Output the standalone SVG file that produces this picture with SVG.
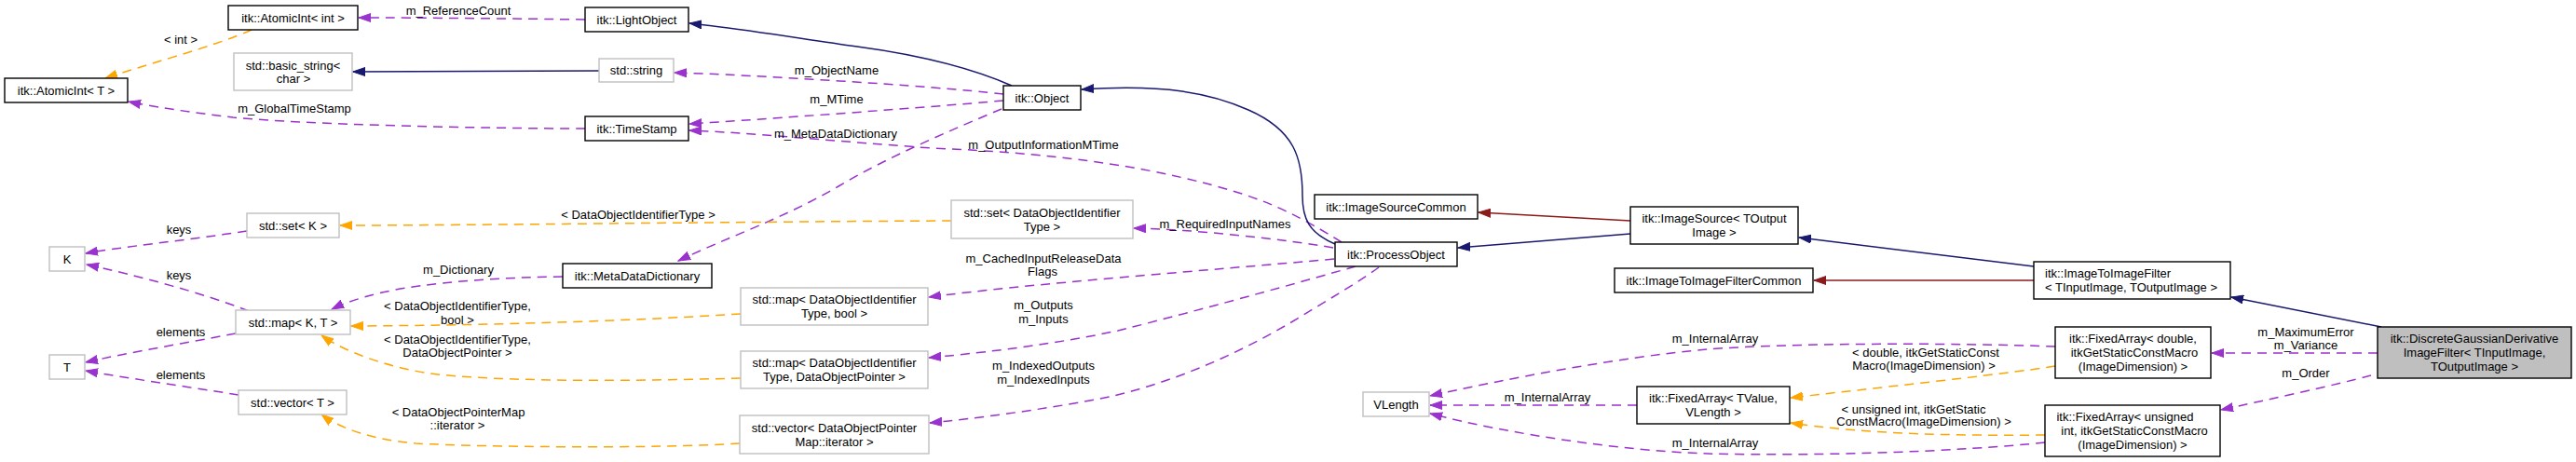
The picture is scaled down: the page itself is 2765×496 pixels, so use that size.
<svg xmlns="http://www.w3.org/2000/svg" width="2765" height="496" viewBox="0 0 2765 496">
<style>
text{font-family:"Liberation Sans",Arial,sans-serif;font-size:13px;fill:#000}
.c{text-anchor:middle}
.n rect{fill:#fff;stroke:#000;stroke-width:1.4}
.g rect{fill:#fff;stroke:#bfbfbf;stroke-width:1.4}
.m rect{fill:#bfbfbf;stroke:#000;stroke-width:1.4}
.e path{fill:none;stroke-width:1.5}
.e .p{stroke:#9a32cd;stroke-dasharray:10,7;marker-end:url(#ap)}
.e .o{stroke:#ffa500;stroke-dasharray:10,7;marker-end:url(#ao)}
.e .b{stroke:#191970;marker-end:url(#ab)}
.e .r{stroke:#8b1a1a;marker-end:url(#ar)}
</style>
<defs>
<marker id="ap" viewBox="0 0 14 10" refX="13" refY="5" markerWidth="14" markerHeight="10" orient="auto" markerUnits="userSpaceOnUse"><path d="M0,0.5 L13,5 L0,9.5 z" fill="#9a32cd" stroke="#9a32cd"/></marker>
<marker id="ao" viewBox="0 0 14 10" refX="13" refY="5" markerWidth="14" markerHeight="10" orient="auto" markerUnits="userSpaceOnUse"><path d="M0,0.5 L13,5 L0,9.5 z" fill="#ffa500" stroke="#ffa500"/></marker>
<marker id="ab" viewBox="0 0 14 10" refX="13" refY="5" markerWidth="14" markerHeight="10" orient="auto" markerUnits="userSpaceOnUse"><path d="M0,0.5 L13,5 L0,9.5 z" fill="#191970" stroke="#191970"/></marker>
<marker id="ar" viewBox="0 0 14 10" refX="13" refY="5" markerWidth="14" markerHeight="10" orient="auto" markerUnits="userSpaceOnUse"><path d="M0,0.5 L13,5 L0,9.5 z" fill="#8b1a1a" stroke="#8b1a1a"/></marker>
</defs>
<rect width="2765" height="496" fill="#fff"/>

<g id="connectors" class="e">
<path class="p" d="M628,21 C560,20 450,19 385,19"/>
<text class="c" x="492" y="16">m_ReferenceCount</text>
<path class="o" d="M270,32 C230,50 160,68 113,84"/>
<text class="c" x="194" y="47">&lt; int &gt;</text>
<path class="b" d="M643,76 L379,77"/>
<path class="p" d="M628,138 C520,138 330,134 250,126 C200,120 160,114 138,109"/>
<text class="c" x="316" y="121">m_GlobalTimeStamp</text>
<path class="b" d="M1086,92 C1040,72 980,58 920,50 C850,40 790,30 740,25"/>
<path class="p" d="M1077,101 C1000,92 800,80 724,78"/>
<text class="c" x="898" y="79.5">m_ObjectName</text>
<path class="p" d="M1077,108 C1000,115 820,128 740,133"/>
<text class="c" x="898" y="111">m_MTime</text>
<path class="p" d="M1440,260 C1400,235 1370,220 1333,208 C1250,182 1150,165 1000,159 C900,152 800,142 740,140"/>
<text class="c" x="1120" y="159.5">m_OutputInformationMTime</text>
<path class="p" d="M1075,117 C1020,140 950,170 900,200 C840,235 780,255 728,280"/>
<text class="c" x="897" y="147.5">m_MetaDataDictionary</text>
<path class="b" d="M1433,262 C1405,250 1398,235 1398,210 C1398,170 1390,140 1340,118 C1300,100 1250,90 1161,96"/>
<path class="p" d="M1431,266 C1380,257 1280,246 1217,245"/>
<text class="c" x="1315" y="244.5">m_RequiredInputNames</text>
<path class="o" d="M1021,237 C800,238 500,242 365,242"/>
<text class="c" x="685" y="234.5">&lt; DataObjectIdentifierType &gt;</text>
<path class="p" d="M265,248 C200,258 130,265 92,272"/>
<text class="c" x="192" y="251">keys</text>
<path class="p" d="M267,334 C220,315 140,294 93,284"/>
<text class="c" x="192" y="299.5">keys</text>
<path class="p" d="M253,358 C200,368 130,380 92,389"/>
<text class="c" x="194" y="361">elements</text>
<path class="p" d="M256,424 C200,415 130,405 92,398"/>
<text class="c" x="194" y="407">elements</text>
<path class="p" d="M604,297 C530,298 460,303 410,314 C385,320 368,326 356,332"/>
<text class="c" x="492" y="293.5">m_Dictionary</text>
<path class="o" d="M795,337 C700,343 560,349 377,350"/>
<text class="c" x="491" y="333">&lt; DataObjectIdentifierType,</text>
<text class="c" x="491" y="347.5">bool &gt;</text>
<path class="o" d="M795,406 C650,410 540,409 470,402 C420,396 370,378 345,360"/>
<text class="c" x="491" y="368.5">&lt; DataObjectIdentifierType,</text>
<text class="c" x="491" y="383">DataObjectPointer &gt;</text>
<path class="o" d="M794,476 C700,482 520,480 446,476 C400,472 365,460 345,445"/>
<text class="c" x="492" y="447">&lt; DataObjectPointerMap</text>
<text class="c" x="491" y="461">::iterator &gt;</text>
<path class="p" d="M1432,278 C1300,290 1100,305 997,319"/>
<text class="c" x="1120" y="281.5">m_CachedInputReleaseData</text>
<text class="c" x="1119" y="296">Flags</text>
<path class="p" d="M1455,286 C1420,296 1300,330 1200,355 C1120,372 1040,380 997,384"/>
<text class="c" x="1120" y="332">m_Outputs</text>
<text class="c" x="1120" y="347">m_Inputs</text>
<path class="p" d="M1480,287 C1455,305 1425,322 1396,340 C1330,380 1260,410 1191,426 C1120,440 1040,450 998,454"/>
<text class="c" x="1120" y="397">m_IndexedOutputs</text>
<text class="c" x="1120" y="412">m_IndexedInputs</text>
<path class="b" d="M1750,251 L1565,266"/>
<path class="r" d="M1750,237 L1587,228"/>
<path class="b" d="M2183,286 L1931,255"/>
<path class="r" d="M2183,301 L1947,301"/>
<path class="b" d="M2556,351 L2395,319"/>
<path class="p" d="M2552,379 L2374,379"/>
<text class="c" x="2475" y="360.5">m_MaximumError</text>
<text class="c" x="2475" y="375">m_Variance</text>
<path class="p" d="M2545,403 C2500,415 2430,430 2384,440"/>
<text class="c" x="2475" y="404.5">m_Order</text>
<path class="o" d="M2206,393 C2150,402 2000,418 1922,427"/>
<text class="c" x="2067" y="383">&lt; double, itkGetStaticConst</text>
<text class="c" x="2065" y="397">Macro(ImageDimension) &gt;</text>
<path class="o" d="M2195,467 C2100,468 2000,466 1922,454"/>
<text class="c" x="2054" y="443.5">&lt; unsigned int, itkGetStatic</text>
<text class="c" x="2065" y="457">ConstMacro(ImageDimension) &gt;</text>
<path class="p" d="M1757,435 L1535,435"/>
<text class="c" x="1661" y="431">m_InternalArray</text>
<path class="p" d="M2206,372 C2100,368 1920,368 1833,375 C1740,383 1610,408 1535,425"/>
<text class="c" x="1841" y="367.5">m_InternalArray</text>
<path class="p" d="M2195,475 C2100,485 1950,490 1833,487 C1740,484 1620,466 1535,444"/>
<text class="c" x="1841" y="479.5">m_InternalArray</text>
</g>

<g id="AtomicIntT" class="n"><rect x="5" y="84" width="132" height="26"/><text class="c" x="71" y="101.5">itk::AtomicInt&lt; T &gt;</text></g>
<g id="AtomicIntInt" class="n"><rect x="245" y="6" width="139" height="26"/><text class="c" x="314.5" y="23.5">itk::AtomicInt&lt; int &gt;</text></g>
<g id="LightObject" class="n"><rect x="628" y="8" width="111" height="26"/><text class="c" x="683.5" y="25.5">itk::LightObject</text></g>
<g id="basic_string" class="g"><rect x="251" y="57" width="127" height="40"/><text class="c" x="314.5" y="74.5">std::basic_string&lt;</text><text class="c" x="315" y="89">char &gt;</text></g>
<g id="std_string" class="g"><rect x="643" y="63" width="80" height="25"/><text class="c" x="683" y="80">std::string</text></g>
<g id="TimeStamp" class="n"><rect x="628" y="125" width="111" height="26"/><text class="c" x="683.5" y="142.5">itk::TimeStamp</text></g>
<g id="Object" class="n"><rect x="1077" y="92" width="83" height="26"/><text class="c" x="1118.5" y="109.5">itk::Object</text></g>
<g id="set_K" class="g"><rect x="265" y="229" width="99" height="26"/><text class="c" x="314.5" y="246.5">std::set&lt; K &gt;</text></g>
<g id="K" class="g"><rect x="53" y="265" width="38" height="26"/><text class="c" x="72" y="282.5">K</text></g>
<g id="map_KT" class="g"><rect x="253" y="333" width="123" height="26"/><text class="c" x="314.5" y="350.5">std::map&lt; K, T &gt;</text></g>
<g id="T" class="g"><rect x="53" y="381" width="38" height="26"/><text class="c" x="72" y="398.5">T</text></g>
<g id="vector_T" class="g"><rect x="256" y="419" width="116" height="26"/><text class="c" x="314" y="436.5">std::vector&lt; T &gt;</text></g>
<g id="MetaDataDictionary" class="n"><rect x="604" y="283" width="160" height="26"/><text class="c" x="684" y="300.5">itk::MetaDataDictionary</text></g>
<g id="set_DOI" class="g"><rect x="1021" y="215" width="195" height="41"/><text class="c" x="1118.5" y="232.5">std::set&lt; DataObjectIdentifier</text><text class="c" x="1118.5" y="247.5">Type &gt;</text></g>
<g id="map_DOI_bool" class="g"><rect x="795" y="309" width="201" height="40"/><text class="c" x="895.5" y="326">std::map&lt; DataObjectIdentifier</text><text class="c" x="895.5" y="341">Type, bool &gt;</text></g>
<g id="map_DOI_DOP" class="g"><rect x="795" y="377" width="201" height="40"/><text class="c" x="895.5" y="394">std::map&lt; DataObjectIdentifier</text><text class="c" x="895.5" y="409">Type, DataObjectPointer &gt;</text></g>
<g id="vector_DOPM" class="g"><rect x="794" y="446" width="203" height="41"/><text class="c" x="895.5" y="463.5">std::vector&lt; DataObjectPointer</text><text class="c" x="895.5" y="478.5">Map::iterator &gt;</text></g>
<g id="ProcessObject" class="n"><rect x="1433" y="260" width="131" height="26"/><text class="c" x="1498.5" y="277.5">itk::ProcessObject</text></g>
<g id="ImageSourceCommon" class="n"><rect x="1411" y="209" width="175" height="26"/><text class="c" x="1498.5" y="226.5">itk::ImageSourceCommon</text></g>
<g id="ImageSource" class="n"><rect x="1750" y="222" width="180" height="40"/><text class="c" x="1840" y="239">itk::ImageSource&lt; TOutput</text><text class="c" x="1840" y="254">Image &gt;</text></g>
<g id="ImageToImageFilterCommon" class="n"><rect x="1733" y="288" width="213" height="26"/><text class="c" x="1839.5" y="305.5">itk::ImageToImageFilterCommon</text></g>
<g id="ImageToImageFilter" class="n"><rect x="2183" y="281" width="211" height="40"/><text x="2195" y="298">itk::ImageToImageFilter</text><text x="2195" y="313">&lt; TInputImage, TOutputImage &gt;</text></g>
<g id="VLength" class="g"><rect x="1463" y="421" width="71" height="26"/><text class="c" x="1498.5" y="438.5">VLength</text></g>
<g id="FixedArray_TValue" class="n"><rect x="1757" y="415" width="164" height="40"/><text class="c" x="1839" y="432">itk::FixedArray&lt; TValue,</text><text class="c" x="1839" y="447">VLength &gt;</text></g>
<g id="FixedArray_double" class="n"><rect x="2206" y="351" width="167" height="55"/><text class="c" x="2289.5" y="368">itk::FixedArray&lt; double,</text><text class="c" x="2291" y="383">itkGetStaticConstMacro</text><text class="c" x="2289.5" y="398">(ImageDimension) &gt;</text></g>
<g id="DiscreteGaussianDerivativeImageFilter" class="m"><rect x="2552" y="351" width="208" height="55"/><text class="c" x="2656" y="368">itk::DiscreteGaussianDerivative</text><text class="c" x="2656" y="383">ImageFilter&lt; TInputImage,</text><text class="c" x="2656" y="398">TOutputImage &gt;</text></g>
<g id="FixedArray_uint" class="n"><rect x="2195" y="435" width="188" height="55"/><text class="c" x="2281" y="452">itk::FixedArray&lt; unsigned</text><text class="c" x="2291" y="467">int, itkGetStaticConstMacro</text><text class="c" x="2289" y="482">(ImageDimension) &gt;</text></g>
</svg>
